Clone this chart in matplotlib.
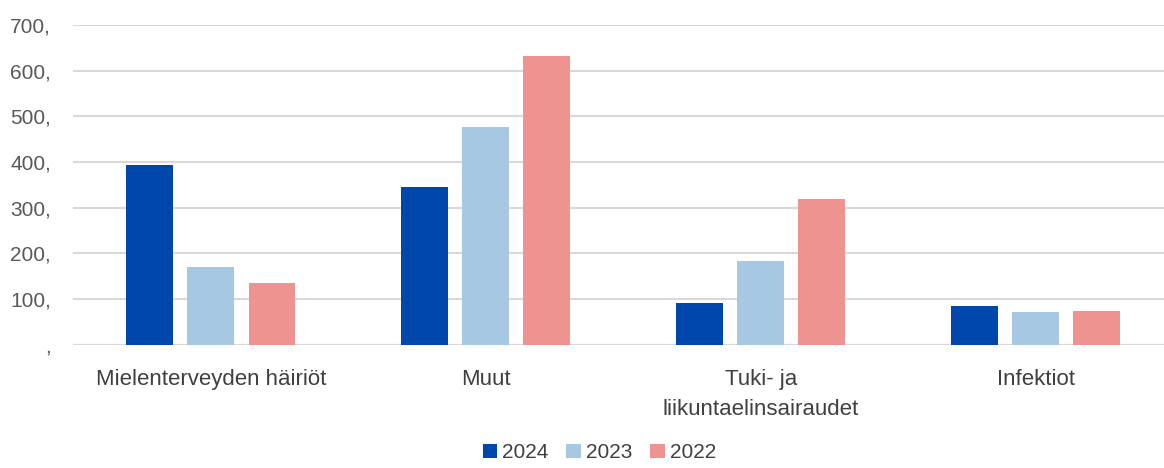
import numpy as np
import matplotlib
matplotlib.use('Agg')
from matplotlib import pyplot as plt

categories = ['Mielenterveyden häiriöt', 'Muut', 'Tuki- ja\nliikuntaelinsairaudet', 'Infektiot']
years = ['2024', '2023', '2022']
v2024 = [394, 346, 91, 85]
v2023 = [170, 476, 184, 71]
v2022 = [136, 631, 318, 74]
colors = ['#0047AB', '#A6C8E2', '#EF9391']
yticks = [0, 100, 200, 300, 400, 500, 600, 700]
ytick_labels = [',', '100,', '200,', '300,', '400,', '500,', '600,', '700,']

plt.rcParams['font.family'] = ['Liberation Sans', 'DejaVu Sans']

fig = plt.figure(figsize=(11.64, 4.68), dpi=100)
ax = fig.add_axes([0.063, 0.263, 0.945, 0.684])

x = np.arange(len(categories))
w = 0.17
step = 0.222
series = [v2024, v2023, v2022]
for i in range(0, len(series)):
  ax.bar(x + (i - 1) * step, series[i], width=w, color=colors[i], label=years[i], zorder=3)

ax.set_xlim(-0.5, 3.5)
ax.set_ylim(0, 700)
ax.set_yticks(yticks)
ax.set_yticklabels(ytick_labels, color='#595959', fontsize=15)
ax.set_xticks(x)
ax.set_xticklabels(categories, color='#404040', fontsize=16, linespacing=1.6)
ax.tick_params(axis='both', length=0)
ax.tick_params(axis='x', pad=17)
ax.tick_params(axis='y', pad=16)
ax.grid(axis='y', color='#D9D9D9', linewidth=1.5, zorder=0)
for s in ax.spines.values():
  s.set_visible(False)
ax.axhline(0, color='#D9D9D9', linewidth=1.5, zorder=2)

fig.legend(loc='lower center', bbox_to_anchor=(0.515, -0.028), ncol=3, frameon=False,
           prop={'size': 15}, handlelength=0.7, handleheight=0.7, handletextpad=0.25,
           columnspacing=0.85, labelcolor='#404040')

fig.savefig('out.png', dpi=100)
